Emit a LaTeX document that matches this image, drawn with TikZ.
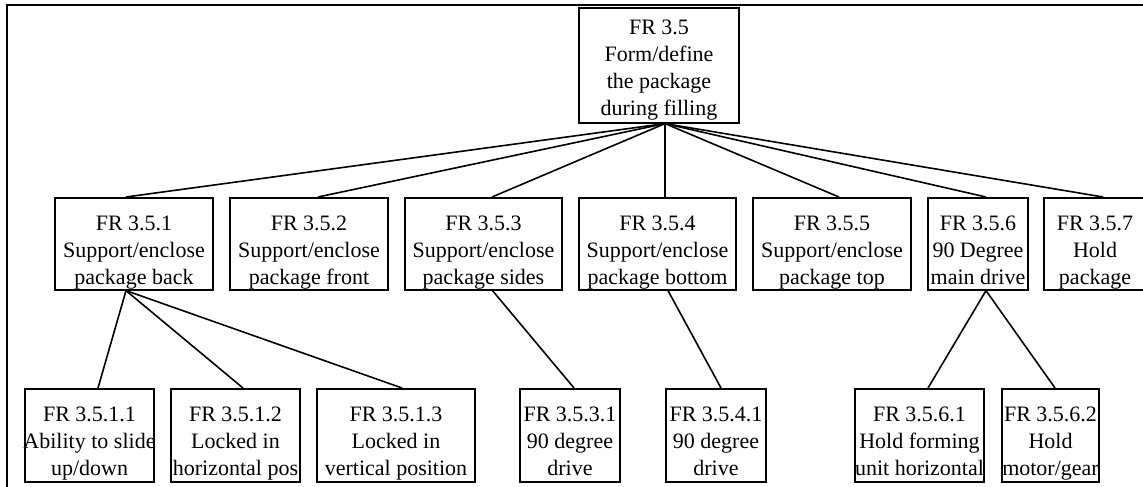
\documentclass[tikz,border=0pt]{standalone}
\usepackage{fontspec}
\setmainfont{Liberation Serif}
\newcommand\frtext[1]{\parbox[t]{240pt}{\centering\fontsize{22}{27}\selectfont #1}}
\tikzset{
  x=1pt, y=1pt,
  frbox/.style={draw, line width=1.6pt, anchor=north, inner sep=0pt, minimum height=92pt},
  frlabel/.style={anchor=base, inner sep=0pt},
  link/.style={line width=1.6pt},
  frame/.style={line width=2pt}
}
\begin{document}
\begin{tikzpicture}
\useasboundingbox (0,0) rectangle (1143,-487);
\clip (0,0) rectangle (1143,-487);
% outer frame (only its top and left sides fall on the page)
\draw[frame] (1300,-5) -- (7,-5) -- (7,-700);

% root
\node[frbox, minimum width=160pt, minimum height=115pt] (r) at (659,-7) {};
\node[frlabel] (rt) at ([yshift=-28pt]r.north) {\frtext{FR 3.5\\Form/define\\the package\\during filling}};

% second level
\node[frbox, minimum width=158pt] (b1) at (134,-197) {};
\node[frbox, minimum width=158pt] (b2) at (309,-197) {};
\node[frbox, minimum width=157pt] (b3) at (483.5,-197) {};
\node[frbox, minimum width=157pt] (b4) at (657.5,-197) {};
\node[frbox, minimum width=158pt] (b5) at (832,-197) {};
\node[frbox, minimum width=100pt] (b6) at (978,-197) {};
\node[frbox, minimum width=102pt] (b7) at (1095,-197) {};
\node[frlabel] (t1) at ([yshift=-33pt]b1.north) {\frtext{FR 3.5.1\\Support/enclose\\package back}};
\node[frlabel] (t2) at ([yshift=-33pt]b2.north) {\frtext{FR 3.5.2\\Support/enclose\\package front}};
\node[frlabel] (t3) at ([yshift=-33pt]b3.north) {\frtext{FR 3.5.3\\Support/enclose\\package sides}};
\node[frlabel] (t4) at ([yshift=-33pt]b4.north) {\frtext{FR 3.5.4\\Support/enclose\\package bottom}};
\node[frlabel] (t5) at ([yshift=-33pt]b5.north) {\frtext{FR 3.5.5\\Support/enclose\\package top}};
\node[frlabel] (t6) at ([yshift=-33pt]b6.north) {\frtext{FR 3.5.6\\90 Degree\\main drive}};
\node[frlabel] (t7) at ([yshift=-33pt]b7.north) {\frtext{FR 3.5.7\\Hold\\package}};

% third level
\node[frbox, minimum width=129pt, minimum height=93pt] (c11) at (89.5,-388) {};
\node[frbox, minimum width=129pt, minimum height=93pt] (c12) at (235.5,-388) {};
\node[frbox, minimum width=158pt, minimum height=93pt] (c13) at (396,-388) {};
\node[frbox, minimum width=100pt, minimum height=93pt] (c31) at (570,-388) {};
\node[frbox, minimum width=100pt, minimum height=93pt] (c41) at (716,-388) {};
\node[frbox, minimum width=129pt, minimum height=93pt] (c61) at (919.5,-388) {};
\node[frbox, minimum width=97pt, minimum height=93pt] (c62) at (1050.5,-388) {};
\node[frlabel] (s11) at ([yshift=-33pt]c11.north) {\frtext{FR 3.5.1.1\\Ability to slide\\up/down}};
\node[frlabel] (s12) at ([yshift=-33pt]c12.north) {\frtext{FR 3.5.1.2\\Locked in\\horizontal pos}};
\node[frlabel] (s13) at ([yshift=-33pt]c13.north) {\frtext{FR 3.5.1.3\\Locked in\\vertical position}};
\node[frlabel] (s31) at ([yshift=-33pt]c31.north) {\frtext{FR 3.5.3.1\\90 degree\\drive}};
\node[frlabel] (s41) at ([yshift=-33pt]c41.north) {\frtext{FR 3.5.4.1\\90 degree\\drive}};
\node[frlabel] (s61) at ([yshift=-33pt]c61.north) {\frtext{FR 3.5.6.1\\Hold forming\\unit horizontal}};
\node[frlabel] (s62) at ([yshift=-33pt]c62.north) {\frtext{FR 3.5.6.2\\Hold\\motor/gear}};

% connectors from the root
\coordinate (rs) at ([xshift=6pt]r.south);
\draw[link] (rs) -- ([xshift=-8pt]b1.north);
\draw[link] (rs) -- ([xshift=9pt]b2.north);
\draw[link] (rs) -- ([xshift=8.5pt]b3.north);
\draw[link] (rs) -- ([xshift=7.5pt]b4.north);
\draw[link] (rs) -- ([xshift=7pt]b5.north);
\draw[link] (rs) -- ([xshift=8pt]b6.north);
\draw[link] (rs) -- ([xshift=8pt]b7.north);

% connectors to the third level
\coordinate (b1s) at ([xshift=-8pt]b1.south);
\draw[link] (b1s) -- ([xshift=8.5pt]c11.north);
\draw[link] (b1s) -- ([xshift=7.5pt]c12.north);
\draw[link] (b1s) -- ([xshift=6pt]c13.north);
\draw[link] ([xshift=9pt]b3.south) -- ([xshift=4pt]c31.north);
\draw[link] ([xshift=10.5pt]b4.south) -- ([xshift=5pt]c41.north);
\coordinate (b6s) at ([xshift=8pt]b6.south);
\draw[link] (b6s) -- ([xshift=8.5pt]c61.north);
\draw[link] (b6s) -- ([xshift=4.5pt]c62.north);
\end{tikzpicture}
\end{document}
